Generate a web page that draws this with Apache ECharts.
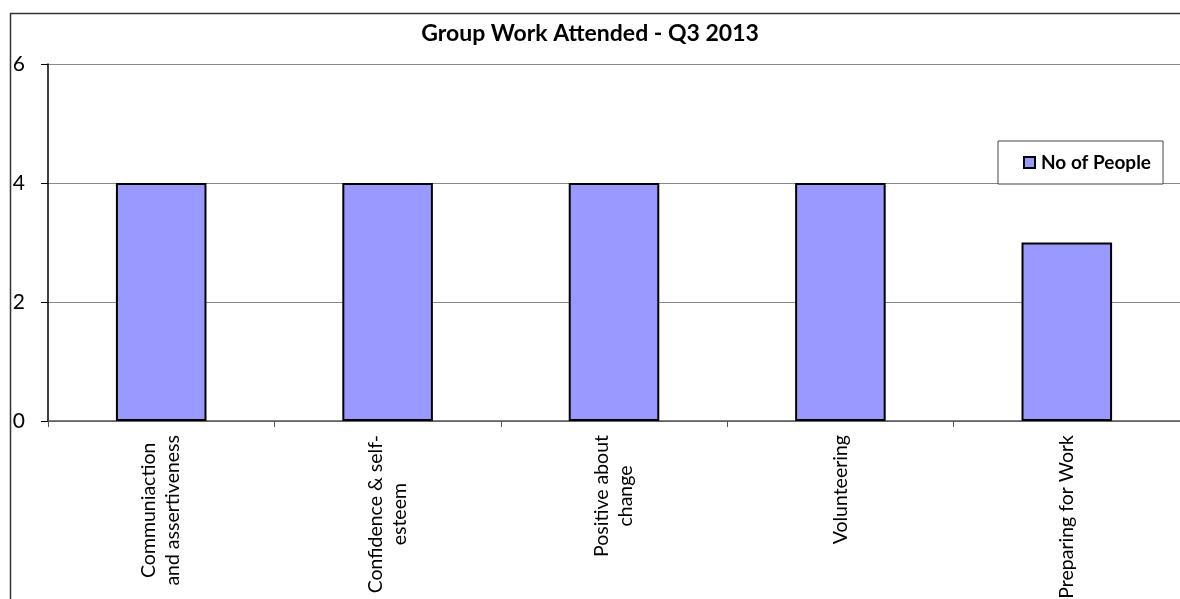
<!DOCTYPE html>
<html>
<head>
<meta charset="utf-8">
<script src="https://cdn.jsdelivr.net/npm/echarts@6/dist/echarts.min.js"></script>
<style>
  html, body { margin: 0; padding: 0; background: #fff; }
  #chart { width: 1180px; height: 599px; }
</style>
</head>
<body>
<div id="chart"></div>
<script>
const titleText = 'Group Work Attended - Q3 2013';
const categories = [
  'Communiaction\nand assertiveness',
  'Confidence & self-\nesteem',
  'Positive about\nchange',
  'Volunteering',
  'Preparing for Work'
];
const seriesName = 'No of People';
const peopleCounts = [4, 4, 4, 4, 3];
const yTicks = [0, 2, 4, 6];

const chart = echarts.init(document.getElementById('chart'));

// keep each wrapped line centred, like the original
function centreLines(v) {
  return v.split('\n').map(s => '{c|' + s + '}').join('\n');
}

chart.setOption({
  animation: false,
  title: {
    text: titleText,
    left: 'center',
    top: 17,
    textStyle: { fontFamily: 'Lato', fontWeight: 'bold', fontSize: 23, color: '#000' }
  },
  legend: {
    data: [seriesName],
    left: 998,
    top: 141,
    orient: 'vertical',
    backgroundColor: '#fff',
    borderColor: '#444',
    borderWidth: 1,
    padding: [12, 12, 12, 25],
    itemWidth: 11,
    itemHeight: 11,
    itemGap: 0,
    icon: 'rect',
    itemStyle: { borderColor: '#000', borderWidth: 2 },
    textStyle: { fontFamily: 'Lato', fontWeight: 'bold', fontSize: 19, color: '#000', padding: [0, 0, 0, 1] }
  },
  graphic: [{
    type: 'rect',
    left: 8,
    top: 11,
    shape: { width: 2000, height: 2000 },
    style: { fill: 'none', stroke: '#333', lineWidth: 1.5 },
    z: -1
  }],
  grid: { left: 48, right: 0, top: 64, bottom: 178, containLabel: false, outerBoundsMode: 'none' },
  xAxis: {
    type: 'category',
    data: categories,
    axisLine: { lineStyle: { color: '#555', width: 1.5 } },
    axisTick: { show: true, length: 6, lineStyle: { color: '#555' } },
    axisLabel: {
      rotate: 90,
      interval: 0,
      margin: 14,
      fontFamily: 'Lato',
      fontSize: 19.5,
      lineHeight: 24,
      color: '#000',
      formatter: centreLines,
      rich: { c: { align: 'center', fontFamily: 'Lato', fontSize: 19.5, lineHeight: 24, color: '#000' } }
    }
  },
  yAxis: {
    type: 'value',
    min: yTicks[0],
    max: yTicks[yTicks.length - 1],
    interval: 2,
    axisLine: { show: true, lineStyle: { color: '#000', width: 1.5 } },
    axisTick: { show: true, length: 7, lineStyle: { color: '#000' } },
    axisLabel: { margin: 23, fontFamily: 'Lato', fontSize: 21, color: '#000' },
    splitLine: { lineStyle: { color: '#888', width: 1.2 } }
  },
  series: [{
    name: seriesName,
    type: 'bar',
    data: peopleCounts,
    barWidth: '40%',
    itemStyle: { color: '#9999FF', borderColor: '#000', borderWidth: 2 }
  }]
});
</script>
</body>
</html>
